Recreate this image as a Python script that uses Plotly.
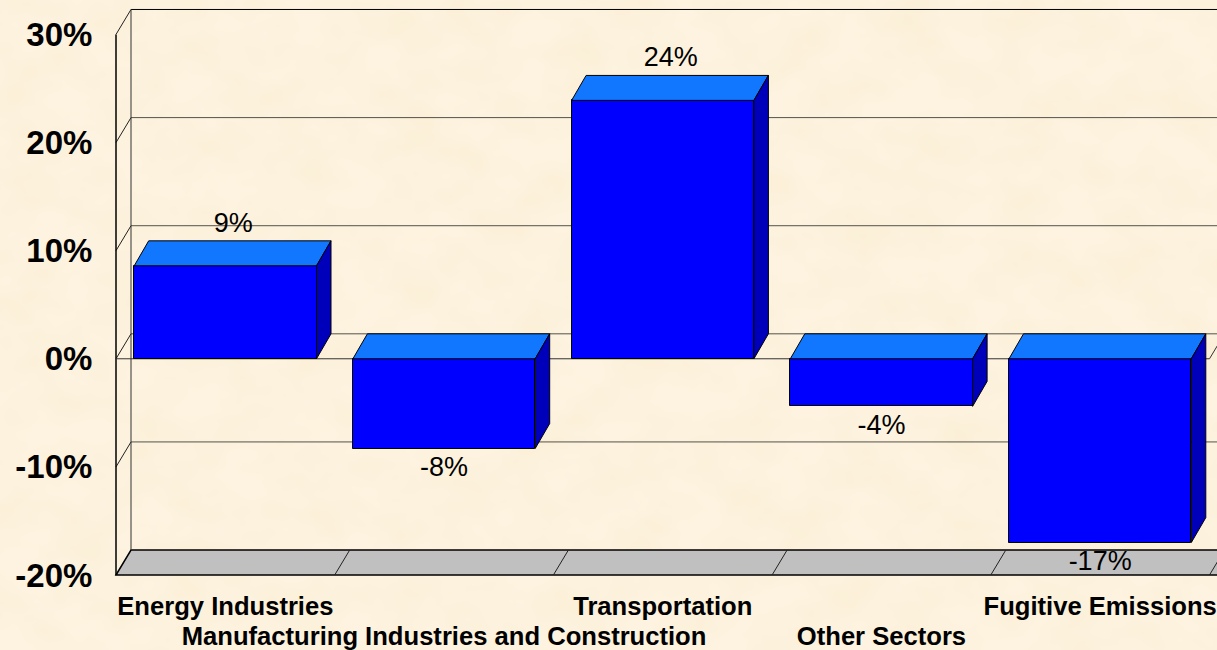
import base64
import plotly.graph_objects as go

categories = ["Energy Industries", "Manufacturing Industries and Construction",
              "Transportation", "Other Sectors", "Fugitive Emissions"]
values = [8.6, -8.3, 23.9, -4.4, -17.0]
labels = ["9%", "-8%", "24%", "-4%", "-17%"]
y_ticks = [-20, -10, 0, 10, 20, 30]
y_tick_text = ["-20%", "-10%", "0%", "10%", "20%", "30%"]

PX_X = 218.7    # pixels per category
PX_Y = 10.83    # pixels per percent
DX = 15 / PX_X  # 3-D depth in axis units
BAR_DX = 14.5 / PX_X
DY = 25 / PX_Y
BAR_W = 182.3 / PX_X
N = len(categories)
centers = [i + 0.5 for i in range(N)]

BG = "#FBF1DC"
FONT = "Liberation Sans, Arial, sans-serif"
XR = [-2 / PX_X, (1217 - 116) / PX_X]
YR = [-20 - 2 / PX_Y, 30 + 34.5 / PX_Y]
RIGHT = XR[1] + 1
PLOT_W, PLOT_H = 1217 - 114, 650 - 73

# Decorative parchment backdrop: an SVG noise filter, drawn by the browser.
texture_svg = (
    '<svg xmlns="http://www.w3.org/2000/svg" width="1217" height="650">'
    '<filter id="p" x="0" y="0" width="100%" height="100%">'
    '<feTurbulence type="fractalNoise" baseFrequency="0.018 0.024" numOctaves="3" seed="7"/>'
    '<feColorMatrix type="matrix" values="0 0 0 0 0.93  0 0 0 0 0.80  0 0 0 0 0.55  '
    '0.55 0 0 0 -0.17"/>'
    '</filter>'
    '<rect width="1217" height="650" fill="#FDF3E0"/>'
    '<rect width="1217" height="650" filter="url(#p)"/>'
    '</svg>'
)
texture_uri = "data:image/svg+xml;base64," + base64.b64encode(texture_svg.encode()).decode()


def line(x0, y0, x1, y1, color="#000000", width=1):
    return dict(type="line", xref="x", yref="y", x0=x0, y0=y0, x1=x1, y1=y1,
                layer="below", line=dict(color=color, width=width))


shapes = []
# floor
shapes.append(dict(type="path", xref="x", yref="y", layer="below",
                   path=f"M 0 -20 L {DX} {-20 + DY} L {RIGHT} {-20 + DY} L {RIGHT} -20 Z",
                   fillcolor="#C0C0C0", line=dict(color="#000000", width=1.5)))
for i in range(1, N + 1):
    shapes.append(line(i, -20, i + DX, -20 + DY, "#222222", 1))
# back wall and left wall
for t in y_ticks:
    if t == -20:
        continue
    col = "#000000" if t == 30 else "#55524a"
    shapes.append(line(DX, t + DY, RIGHT, t + DY, col, 1))
    shapes.append(line(0, t, DX, t + DY, "#222222", 1))
shapes.append(line(DX, -20 + DY, DX, 30 + DY, "#333333", 1))
shapes.append(line(0, -20, 0, 30, "#000000", 1.5))
# zero plane
shapes.append(line(0, 0, N, 0, "#333333", 1))
shapes.append(line(N, 0, N + DX, DY, "#333333", 1))

fig = go.Figure()
fig.add_trace(go.Bar(x=centers, y=values, width=BAR_W, base=0,
                     marker=dict(color="#0000FF", line=dict(color="#000000", width=1)),
                     hoverinfo="skip", showlegend=False))

for c, v in zip(centers, values):
    left, right = c - BAR_W / 2, c + BAR_W / 2
    top, bottom = max(v, 0), min(v, 0)
    fig.add_trace(go.Scatter(
        x=[left, left + BAR_DX, right + BAR_DX, right, left],
        y=[top, top + DY, top + DY, top, top],
        mode="lines", fill="toself", fillcolor="#1177FF",
        line=dict(color="#000000", width=1), hoverinfo="skip", showlegend=False))
    fig.add_trace(go.Scatter(
        x=[right, right + BAR_DX, right + BAR_DX, right, right],
        y=[top, top + DY, bottom + DY, bottom, top],
        mode="lines", fill="toself", fillcolor="#0000BB",
        line=dict(color="#000000", width=1), hoverinfo="skip", showlegend=False))

label_x = [c + (8 / PX_X if v > 0 else 0) for c, v in zip(centers, values)]
label_y = [v + DY + 16 / PX_Y if v > 0 else v - 21 / PX_Y for v in values]
fig.add_trace(go.Scatter(x=label_x, y=label_y, mode="text", text=labels,
                         textposition="middle center",
                         textfont=dict(family=FONT, size=27, color="#000000"),
                         hoverinfo="skip", showlegend=False))
# second row of category labels lives on its own overlaying axis
fig.add_trace(go.Scatter(x=centers, y=[None] * N, xaxis="x2", mode="lines",
                         hoverinfo="skip", showlegend=False))

tick_font = dict(family=FONT, size=25.6, color="#000000", weight="bold")
fig.update_layout(
    width=1217, height=650, autosize=False,
    paper_bgcolor=BG, plot_bgcolor="rgba(0,0,0,0)",
    margin=dict(l=114, r=0, t=0, b=73, autoexpand=False),
    shapes=shapes, showlegend=False, bargap=0,
    images=[dict(source=texture_uri, xref="paper", yref="paper",
                 x=-114 / PLOT_W, y=1, sizex=1217 / PLOT_W, sizey=650 / PLOT_H,
                 xanchor="left", yanchor="top", sizing="stretch", layer="below")],
    xaxis=dict(range=XR, tickmode="array", tickvals=centers[0::2], ticktext=categories[0::2],
               showgrid=False, zeroline=False, showline=False, ticks="outside", automargin=False,
               ticklen=6, tickcolor="rgba(0,0,0,0)", tickfont=tick_font, tickangle=0),
    xaxis2=dict(range=XR, overlaying="x", side="bottom", anchor="y", tickmode="array",
                tickvals=centers[1::2], ticktext=categories[1::2], automargin=False,
                showgrid=False, zeroline=False, showline=False, ticks="outside",
                ticklen=36, tickcolor="rgba(0,0,0,0)", tickfont=tick_font, tickangle=0),
    yaxis=dict(range=YR, tickmode="array", tickvals=y_ticks, ticktext=y_tick_text,
               showgrid=False, zeroline=False, showline=False, ticks="outside", automargin=False,
               ticklen=14, tickcolor="rgba(0,0,0,0)",
               tickfont=dict(family=FONT, size=33, color="#000000", weight="bold")),
)
fig.write_html("out.html", config={"displayModeBar": False},
               post_script="document.body.style.margin='0';document.body.style.overflow='hidden';"
                           "document.body.style.background='" + BG + "';")
